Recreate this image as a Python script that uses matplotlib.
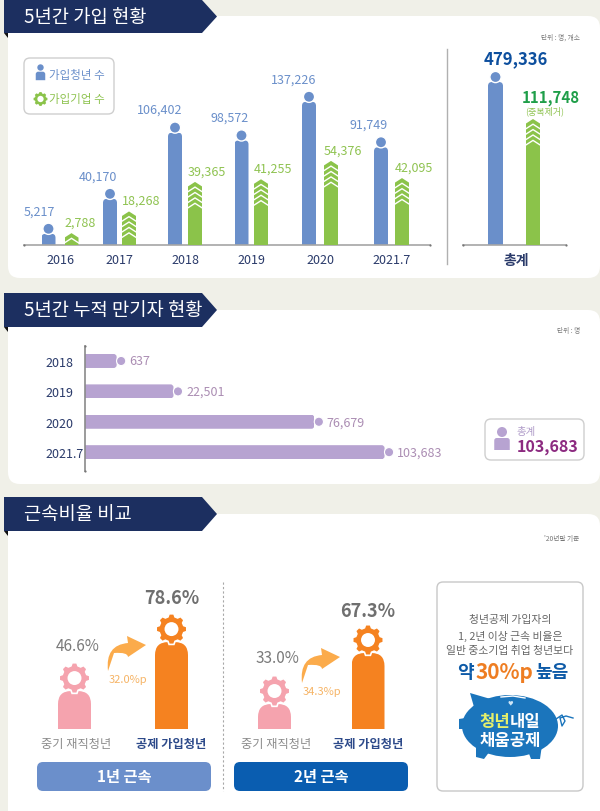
# -*- coding: utf-8 -*-
import numpy as np
import matplotlib
matplotlib.use("Agg")
import matplotlib.pyplot as plt
from matplotlib.patches import Circle, Ellipse, FancyBboxPatch, PathPatch, Polygon
from matplotlib.path import Path

plt.rcParams['font.family'] = ['Noto Sans CJK KR', 'DejaVu Sans']

# 5년간 가입 현황
years = ["2016", "2017", "2018", "2019", "2020", "2021.7"]
youth = [5217, 40170, 106402, 98572, 137226, 91749]
firms = [2788, 18268, 39365, 41255, 54376, 42095]
total_youth = 479336
total_firms = 111748

# 5년간 누적 만기자 현황
cum_years = ["2018", "2019", "2020", "2021.7"]
cum_people = [637, 22501, 76679, 103683]
cum_total = 103683

# 근속비율 비교
retain_labels = ["중기 재직청년", "공제 가입청년"]
retain_1y = [46.6, 78.6]
retain_2y = [33.0, 67.3]
retain_gain = ["32.0%p", "34.3%p"]

W, H = 600, 812
NAVY = "#1c2f60"
BLUE = "#6a8fca"
GREEN = "#8bc34a"
PURPLE = "#b7a3d1"
ORANGE = "#f58220"
PINK = "#f5a3ae"

fig = plt.figure(figsize=(W / 100, H / 100), dpi=100, facecolor="#f0f0e8")


def axes_px(x0, y0, x1, y1, z=2):
    ax = fig.add_axes([x0 / W, 1 - y1 / H, (x1 - x0) / W, (y1 - y0) / H], zorder=z)
    ax.patch.set_visible(False)
    for s in ax.spines.values():
        s.set_visible(False)
    return ax


bg = fig.add_axes([0, 0, 1, 1], zorder=0)
fg = fig.add_axes([0, 0, 1, 1], zorder=5)
for a in (bg, fg):
    a.set_xlim(0, W); a.set_ylim(H, 0); a.axis("off"); a.patch.set_visible(False)


def t(x, y, s, size, color, weight="normal", ha="center"):
    fg.text(x, y, s, fontsize=size, color=color, fontweight=weight, ha=ha, va="center")


def rbox(a, x0, y0, x1, y1, r, fc, ec="none", lw=1.0, z=1):
    a.add_patch(FancyBboxPatch((x0 + r, y0 + r), x1 - x0 - 2 * r, y1 - y0 - 2 * r,
                               boxstyle="round,pad=%f,rounding_size=%f" % (r, r),
                               fc=fc, ec=ec, lw=lw, zorder=z))


def banner(y0, y1, body, tip, title):
    bg.add_patch(Polygon([(4, y1), (8, y1), (8, y1 + 5)], fc="#111111", ec="none", zorder=3))
    bg.add_patch(Polygon([(4, y0), (body, y0), (tip, (y0 + y1) / 2), (body, y1), (4, y1)],
                         fc=NAVY, ec="none", zorder=3))
    bg.text(24, (y0 + y1) / 2 - 0.5, title, fontsize=13.5, color="white", va="center", zorder=4)


def bar_box(rect):
    bb = rect.get_window_extent()
    return bb.x0, bb.x1, H - bb.y1, H - bb.y0


def dome(x0, x1, top, bot, r):
    verts = [(x0, bot), (x0, top + r), (x0, top), (x0 + r, top), (x1 - r, top),
             (x1, top), (x1, top + r), (x1, bot), (x0, bot)]
    codes = [Path.MOVETO, Path.LINETO, Path.CURVE3, Path.CURVE3, Path.LINETO,
             Path.CURVE3, Path.CURVE3, Path.LINETO, Path.CLOSEPOLY]
    return Path(verts, codes)


def person_bar(rect, r=4):
    x0, x1, top, bot = bar_box(rect)
    rect.set_clip_path(dome(x0, x1, top, bot, r), fg.transData)
    fg.add_patch(Circle(((x0 + x1) / 2, top - 5), 5.6, fc=BLUE, ec="white", lw=1.0))
    return x0, x1, top


def chevron_bar(rect, n=4):
    x0, x1, top, bot = bar_box(rect)
    xc = (x0 + x1) / 2
    rect.set_clip_path(Path([(x0, bot), (x0, top + 4.5), (xc, top), (x1, top + 4.5), (x1, bot), (x0, bot)]),
                       fg.transData)
    for k in range(n):
        y = top + 5.2 + 5.4 * k
        if y + 4.5 > bot:
            break
        fg.plot([x0, xc, x1], [y + 4.5, y, y + 4.5], color="white", lw=1.0, solid_joinstyle="miter")
    return x0, x1, top


def gear(cx, cy, r, color, teeth=8, edge="white"):
    pts = []
    step = 2 * np.pi / teeth
    for i in range(teeth):
        a = i * step
        for da, rr in [(-0.36, 0.82), (-0.2, 1.0), (0.2, 1.0), (0.36, 0.82)]:
            pts.append((cx + rr * r * np.cos(a + da * step),
                        cy + rr * r * np.sin(a + da * step)))
    fg.add_patch(Polygon(pts, fc=color, ec=edge, lw=1.2))
    fg.add_patch(Circle((cx, cy), r * 0.45, fc="white", ec="none"))


def person_icon(cx, head_y, r, body_w, body_h, color):
    fg.add_patch(Circle((cx, head_y), r, fc=color, ec="none"))
    x0, x1 = cx - body_w / 2, cx + body_w / 2
    top = head_y + r + 1
    fg.add_patch(PathPatch(dome(x0, x1, top, top + body_h, 2.5), fc=color, ec="none"))


def end_dots(xs, ys):
    fg.plot(xs, ys, ls="none", marker="o", ms=1.6, color="#777777", mec="none")


# cards and banners
rbox(bg, 8, 17, 600, 279, 12, "white")
rbox(bg, 8, 311, 600, 485, 12, "white")
rbox(bg, 8, 515, 600, 860, 12, "white")
banner(1, 34, 202, 217, "5년간 가입 현황")
banner(294, 328, 202, 217, "5년간 누적 만기자 현황")
banner(498, 532, 202, 217, "근속비율 비교")

# ---- 가입 현황: bars are pictograms, so they start from a small stub below zero
BASE = 246
blue_x = [48.5, 110, 175, 241.5, 309, 381]
green_x = [71.5, 129, 195, 261, 331, 402]
ax = axes_px(24, 30, 430, BASE)
ax.set_xlim(24, 430)
ax.set_ylim(-6000, 210000)
ax_g = ax.twinx()
ax_g.patch.set_visible(False)
for s in ax_g.spines.values():
    s.set_visible(False)
ax_g.set_ylim(-5700, 148600)
ax_g.set_yticks([])
ax.set_yticks([])
b_bars = ax.bar(blue_x, youth, width=14, color=BLUE)
g_bars = ax_g.bar(green_x, firms, width=14, color=GREEN)
for r in b_bars:
    r.set_y(-6000); r.set_height(r.get_height() + 6000)
for r in g_bars:
    r.set_y(-5700); r.set_height(r.get_height() + 5700)
ax.set_xticks([(a + b) / 2 for a, b in zip(blue_x, green_x)], years, fontsize=9,
              color="#2a3a6a", fontweight="medium")
ax.tick_params(axis="x", length=0, pad=6)
ax.spines["bottom"].set_visible(True)
ax.spines["bottom"].set_color("#a5a5a5")
ax.spines["bottom"].set_linewidth(1.2)
end_dots([24, 430], [BASE, BASE])
for rect, v in zip(b_bars, youth):
    x0, x1, top = person_bar(rect)
    t(x1, top - 23, format(v, ","), 9, "#6a8fca", ha="right")
for rect, v in zip(g_bars, firms):
    x0, x1, top = chevron_bar(rect)
    t(x0, top - 11, format(v, ","), 9, "#8fc351", ha="left")

# 총계 panel has its own scale
ax2 = axes_px(463, 30, 566, BASE)
ax2.set_xlim(463, 566)
ax2.set_ylim(0, total_youth * 216 / 163)
ax2.set_yticks([])
ax2_g = ax2.twinx()
ax2_g.patch.set_visible(False)
for s in ax2_g.spines.values():
    s.set_visible(False)
ax2_g.set_ylim(0, total_firms * 216 / 126)
ax2_g.set_yticks([])
tb = ax2.bar([495.5], [total_youth], width=15, color=BLUE)[0]
tg = ax2_g.bar([533], [total_firms], width=14, color=GREEN)[0]
ax2.set_xticks([516], ["총계"], fontsize=10, color="#2a3a6a", fontweight="bold")
ax2.tick_params(axis="x", length=0, pad=5.5)
ax2.spines["bottom"].set_visible(True)
ax2.spines["bottom"].set_color("#a5a5a5")
ax2.spines["bottom"].set_linewidth(1.2)
end_dots([463, 566], [BASE, BASE])
person_bar(tb)
chevron_bar(tg, n=4)
t(516, 59, format(total_youth, ","), 12, "#0d4f9e", "bold")
t(551, 98, format(total_firms, ","), 10.8, "#1f9e49", "bold")
t(545, 111, "(중복제거)", 6.5, "#8fc351")
t(580, 38, "단위 : 명, 개소", 4.8, "#777777", ha="right")
fg.plot([447, 447], [50, 265], color="#b0b0b0", lw=1)

# legend
rbox(fg, 24, 59, 114, 115, 6, "white", "#cfcfcf")
person_icon(40.5, 68.5, 3.2, 9.5, 8.5, BLUE)
gear(40.5, 100, 7, GREEN, edge="none")
t(49, 76, "가입청년 수", 8.3, BLUE, ha="left")
t(49, 100, "가입기업 수", 8.3, "#8fc351", ha="left")

# ---- 누적 만기자 현황
ax3 = axes_px(85, 347, 430, 472)
ax3.set_xlim(-30 / 2.6 * 1000, (345 - 30) / 2.6 * 1000)
ax3.set_ylim(3.62, -0.493)
cum_pos = np.arange(len(cum_years))
h_bars = ax3.barh(cum_pos, cum_people, height=0.46, color=PURPLE)
lo = ax3.get_xlim()[0]
ax3.set_xticks([])
ax3.set_yticks(cum_pos, cum_years, fontsize=9, color="#2a3a6a", ha="left", fontweight="medium")
ax3.tick_params(axis="y", length=0, pad=28.8)
ax3.spines["left"].set_visible(True)
ax3.spines["left"].set_color("#8a8a8a")
ax3.spines["left"].set_linewidth(1.2)
end_dots([85, 85], [347, 472])
for rect, v in zip(h_bars, cum_people):
    rect.set_x(lo); rect.set_width(v - lo)
    bb = rect.get_window_extent()
    x0, x1, y0, y1 = bb.x0, bb.x1, H - bb.y1, H - bb.y0
    rect.set_clip_path(FancyBboxPatch((x0 - 6, y0), x1 - x0 + 6, y1 - y0, boxstyle="round,pad=0,rounding_size=3",
                                      transform=fg.transData))
    fg.add_patch(Circle((x1 + 4.5, (y0 + y1) / 2), 4.6, fc=PURPLE, ec="white", lw=0.8))
    t(x1 + 12.5, (y0 + y1) / 2, format(v, ","), 9, "#ab8db3", ha="left")
t(580, 331, "단위 : 명", 4.8, "#777777", ha="right")
rbox(fg, 485, 420, 584, 461, 6, "white", "#cfcfcf")
person_icon(502, 433, 5, 15.5, 12, PURPLE)
t(516.5, 432, "총계", 7.5, "#b09cc9", ha="left")
t(516.5, 447, format(cum_total, ","), 11.5, "#8c2a80", "bold", ha="left")

# ---- 근속비율 비교
R_BASE = 730


def retain_group(x_lo, x_hi, xs, vals, lo, hi, value_y):
    a = axes_px(x_lo, 560, x_hi, R_BASE)
    a.set_xlim(x_lo, x_hi)
    a.set_ylim(lo, hi)
    a.set_yticks([])
    bars = a.bar(xs, vals, width=33, color=[PINK, ORANGE])
    a.set_xticks([xs[0] + 2, xs[1]], retain_labels, fontsize=8.8)
    a.tick_params(axis="x", length=0, pad=6)
    lab = a.get_xticklabels()
    lab[0].set_color("#8c8c8c")
    lab[1].set_color("#2d4a8a"); lab[1].set_fontweight("bold")
    for rect, col in zip(bars, (PINK, ORANGE)):
        x0, x1, top, bot = bar_box(rect)
        rect.set_clip_path(dome(x0, x1, top, bot, 13), fg.transData)
        gear((x0 + x1) / 2, top - 13, 15.5, col)
    t(xs[0] + 3, value_y[0], "%.1f%%" % vals[0], 11, "#7a7a7a")
    t(xs[1], value_y[1], "%.1f%%" % vals[1], 13, "#6f6f6f", "bold")


retain_group(40, 215, [74.5, 171.5], retain_1y, 21.8, 21.8 + 170 / 1.53, (647, 599))
retain_group(235, 410, [274.5, 368], retain_2y, 16.2, 16.2 + 170 / 1.487, (659, 612))


def curved_arrow(dx, dy):
    v = [(108, 672), (105, 646), (128, 644), (127, 637), (146, 646), (128, 658), (128, 653),
         (114, 654), (108, 672)]
    c = [Path.MOVETO, Path.CURVE3, Path.CURVE3, Path.LINETO, Path.LINETO, Path.LINETO,
         Path.CURVE3, Path.CURVE3, Path.CLOSEPOLY]
    v = [(x + dx, y + dy) for x, y in v]
    fg.add_patch(PathPatch(Path(v, c), fc="#fbab4b", ec="none"))


curved_arrow(0, 0)
curved_arrow(194, 12)
t(128, 680, retain_gain[0], 8, "#f6b466")
t(322, 692, retain_gain[1], 8, "#f6b466")
fg.plot([222.7, 222.7], [583, 792], color="#a8a8a8", lw=0.8, ls=(0, (2, 2)))
rbox(fg, 37, 763, 211, 792, 6, "#6b8fcb")
rbox(fg, 234, 763, 408, 792, 6, "#0a5db0")
t(124, 777, "1년 근속", 11, "white", "bold")
t(321, 777, "2년 근속", 11, "white", "bold")
t(579, 539, "'20년말 기준", 4.8, "#777777", ha="right")

# message box
rbox(fg, 437, 583, 583, 792, 6, "white", "#c8c8c8")
t(510, 620, "청년공제 가입자의", 7.8, "#666666")
t(510, 636, "1, 2년 이상 근속 비율은", 7.8, "#666666")
t(510, 651, "일반 중소기업 취업 청년보다", 7.8, "#666666")
t(465, 673, "약", 13, "#0d5aa7", "bold")
t(504, 673, "30%p", 15, "#ee7d22", "bold")
t(552, 673, "높음", 13, "#0d5aa7", "bold")

# piggy bank
PIG = "#1b75bc"
fg.add_patch(Ellipse((510, 727), 96, 62, fc=PIG, ec="none"))
fg.add_patch(Polygon([(470, 694), (494, 701), (478, 722)], fc=PIG, ec="none"))
fg.add_patch(Polygon([(459, 720), (472, 718), (472, 730), (459, 730)], fc=PIG, ec="none"))
fg.add_patch(Polygon([(476, 745), (490, 752), (484, 760), (476, 758)], fc=PIG, ec="none"))
fg.add_patch(Polygon([(528, 752), (542, 746), (540, 760), (531, 760)], fc=PIG, ec="none"))
fg.plot([501, 513, 525], [698, 697, 699], color="white", lw=1)
fg.plot([556, 562, 565, 562, 560, 566, 573], [720, 716, 722, 727, 719, 717, 719], color=PIG, lw=1)
t(510, 703, "♥", 4, "#cfe6f7")
t(510, 722, "청년", 12, "#e6f06a", "bold", ha="right")
t(510, 722, "내일", 12, "white", "bold", ha="left")
t(510, 741, "채움공제", 12, "white", "bold")

fig.savefig("out.png", dpi=100, facecolor=fig.get_facecolor())
